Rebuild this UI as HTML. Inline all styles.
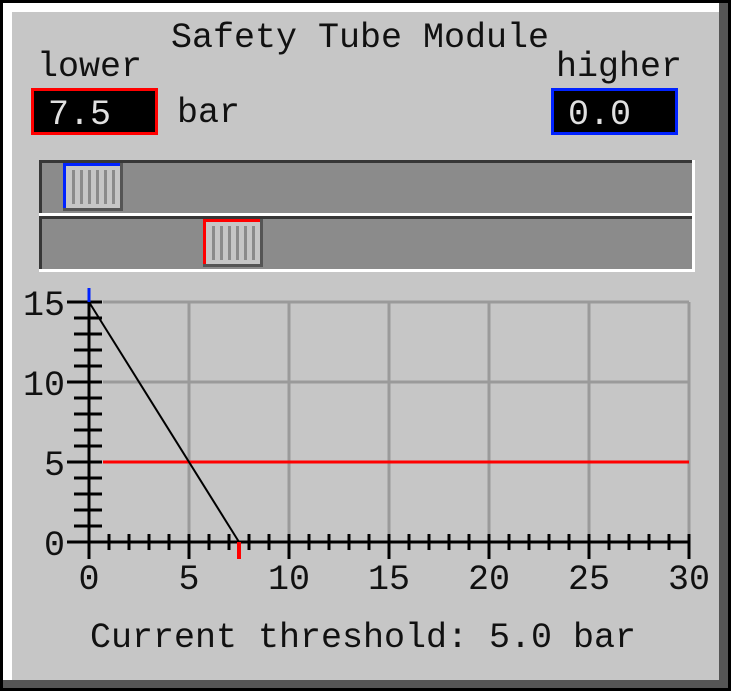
<!DOCTYPE html>
<html><head><meta charset="utf-8"><style>
html,body{margin:0;padding:0;background:#000;}
svg{display:block;}
text{font-family:"Liberation Mono",monospace;font-size:35px;}
</style></head><body>
<svg id="c" width="731" height="691" viewBox="0 0 731 691" xmlns="http://www.w3.org/2000/svg">
<rect x="0" y="0" width="731" height="691" fill="#000"/>
<rect x="3" y="3" width="725" height="685" fill="#555"/>
<rect x="3" y="3" width="716" height="677" fill="#fff"/>
<rect x="12" y="12" width="707" height="668" fill="#c6c6c6"/>
<text x="360" y="47" text-anchor="middle" fill="#111">Safety Tube Module</text>
<text x="37" y="76" fill="#111">lower</text>
<text x="556" y="76" fill="#111">higher</text>
<g>
<rect x="32.5" y="89.5" width="124" height="44" fill="#000" stroke="#f00" stroke-width="3"/>
<text x="48" y="124" fill="#e0e0e0">7.5</text>
</g>
<text x="177" y="122" fill="#111">bar</text>
<g>
<rect x="552.5" y="89.5" width="124" height="44" fill="#000" stroke="#0022ff" stroke-width="3"/>
<text x="568" y="124" fill="#e0e0e0">0.0</text>
</g>
<g>
<rect x="39" y="160" width="656" height="56" fill="#fff"/>
<rect x="39" y="160" width="653" height="53" fill="#373737"/>
<rect x="42" y="163" width="650" height="50" fill="#8b8b8b"/>
<g>
<rect x="63" y="163" width="60" height="48" fill="#555"/>
<rect x="63" y="163" width="57" height="45" fill="#c6c6c6"/>
<rect x="63" y="163" width="57" height="3" fill="#0022ff"/>
<rect x="63" y="163" width="3" height="45" fill="#0022ff"/>
<g fill="#8b8b8b"><rect x="72" y="170" width="3" height="34"/><rect x="80" y="170" width="3" height="34"/><rect x="88" y="170" width="3" height="34"/><rect x="96" y="170" width="3" height="34"/><rect x="104" y="170" width="3" height="34"/><rect x="112" y="170" width="3" height="34"/></g>
</g>
</g>
<g>
<rect x="39" y="216" width="656" height="56" fill="#fff"/>
<rect x="39" y="216" width="653" height="53" fill="#373737"/>
<rect x="42" y="219" width="650" height="50" fill="#8b8b8b"/>
<g>
<rect x="203" y="219" width="60" height="48" fill="#555"/>
<rect x="203" y="219" width="57" height="45" fill="#c6c6c6"/>
<rect x="203" y="219" width="57" height="3" fill="#f00"/>
<rect x="203" y="219" width="3" height="45" fill="#f00"/>
<g fill="#8b8b8b"><rect x="212" y="226" width="3" height="34"/><rect x="220" y="226" width="3" height="34"/><rect x="228" y="226" width="3" height="34"/><rect x="236" y="226" width="3" height="34"/><rect x="244" y="226" width="3" height="34"/><rect x="252" y="226" width="3" height="34"/></g>
</g>
</g>
<g id="chart"></g>
<text x="363" y="647" text-anchor="middle" fill="#111">Current threshold: 5.0 bar</text>
</svg>
<script>
const xTicks = [0,5,10,15,20,25,30];
const yTicks = [0,5,10,15];
const lowerValue = [7.5];
const higherValue = [0.0];
const thresholdValue = [5.0];
const linePoints = [[0,15],[7.5,0]];

const NS='http://www.w3.org/2000/svg';
const g=document.getElementById('chart');
const X=v=>89+v*20, Y=v=>542-v*16;
function mk(t,a,p){const e=document.createElementNS(NS,t);for(const k in a)e.setAttribute(k,a[k]);(p||g).appendChild(e);return e;}
// grid
xTicks.forEach(v=>{ if(v===0)return;
  const e=mk('line',{x1:X(v),y1:Y(15),x2:X(v),y2:Y(0),stroke:'#9a9a9a','stroke-width':3});
  
  });
yTicks.forEach(v=>{ if(v===0)return;
  const e=mk('line',{x1:X(0)+14,y1:Y(v),x2:X(30),y2:Y(v),stroke:'#9a9a9a','stroke-width':3});
  
  });
// threshold
const th=mk('line',{x1:X(0)+14,y1:Y(thresholdValue[0]),x2:X(30),y2:Y(thresholdValue[0]),stroke:'#f00','stroke-width':3});


// axes
const ax=mk('line',{x1:X(0),y1:Y(15),x2:X(0),y2:Y(0)+17,stroke:'#000','stroke-width':3});


const ay=mk('line',{x1:X(0)-22,y1:Y(0),x2:X(30),y2:Y(0),stroke:'#000','stroke-width':3});


for(let v=0;v<=15;v++){const major=v%5===0;
  const e=mk('line',{x1:major?X(0)-22:X(0)-15,y1:Y(v),x2:X(0)+13,y2:Y(v),stroke:'#000','stroke-width':3});
  
  }
for(let v=1;v<=30;v++){const major=v%5===0;
  const e=mk('line',{x1:X(v),y1:Y(0)-8,x2:X(v),y2:Y(0)+(major?17:8),stroke:'#000','stroke-width':3});
  
  }
yTicks.forEach(v=>{const t=mk('text',{x:X(0)-24,y:Y(v)+13,'text-anchor':'end',fill:'#111'});t.textContent=v;
  
  });
xTicks.forEach(v=>{const t=mk('text',{x:X(v),y:589,'text-anchor':'middle',fill:'#111'});t.textContent=v;
  
  });
// curve
const pl=mk('polyline',{points:linePoints.map(p=>X(p[0])+','+Y(p[1])).join(' '),fill:'none',stroke:'#000','stroke-width':2});


// markers
const bm=mk('line',{x1:X(higherValue[0]),y1:Y(15)-14,x2:X(higherValue[0]),y2:Y(15),stroke:'#0022ff','stroke-width':3});


const rm=mk('line',{x1:X(lowerValue[0]),y1:Y(0),x2:X(lowerValue[0]),y2:Y(0)+17,stroke:'#f00','stroke-width':4});


</script>
</body></html>
